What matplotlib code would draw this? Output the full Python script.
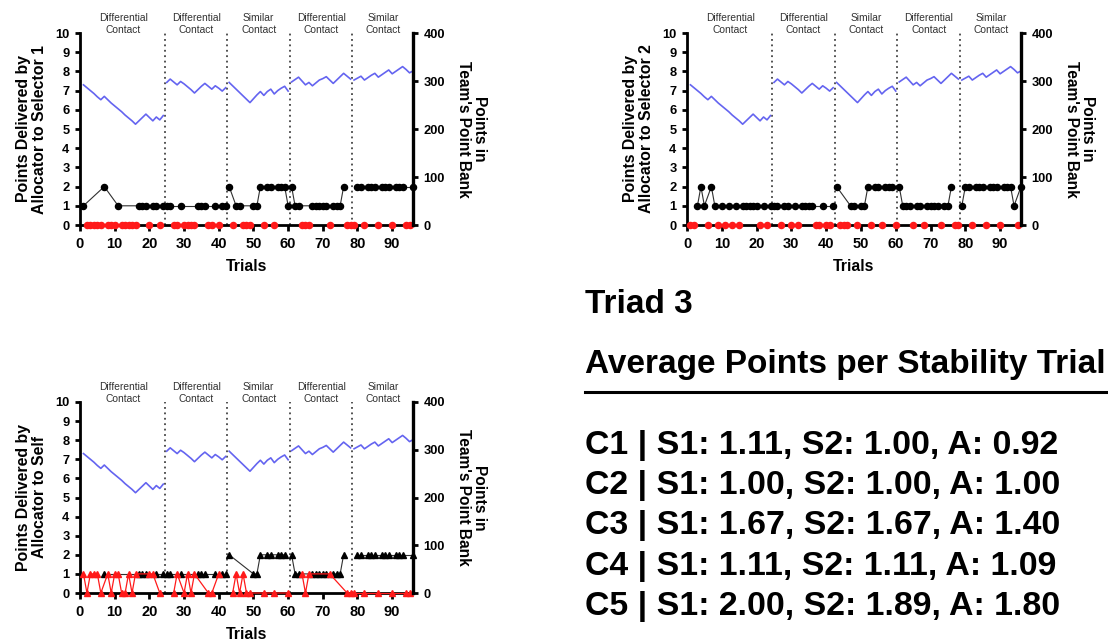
import numpy as np
import matplotlib
matplotlib.use("Agg")
import matplotlib.pyplot as plt
from matplotlib.lines import Line2D

plt.rcParams['font.family'] = ['Liberation Sans', 'DejaVu Sans']
plt.rcParams['font.weight'] = 'bold'
plt.rcParams['axes.labelweight'] = 'bold'

# condition phases (trial ranges)
phase_names = ["Differential\nContact", "Differential\nContact", "Similar\nContact",
               "Differential\nContact", "Similar\nContact"]
phase_first = [1, 25, 43, 61, 79]
phase_last = [24, 42, 60, 78, 96]

# points in the team's point bank, per trial
bank = [292, 286, 280, 274, 267, 261, 268, 261, 254, 248, 242, 236, 229, 223, 217, 210, 217, 224,
        231, 224, 217, 225, 219, 228,
        297, 304, 298, 292, 299, 294, 288, 282, 275, 282, 289, 295, 289, 283, 290, 285, 279, 286,
        297, 290, 283, 276, 269, 262, 255, 263, 271, 278, 270, 278, 283, 273, 280, 285, 289, 279,
        298, 303, 308, 300, 292, 297, 290, 296, 302, 305, 309, 302, 295, 302, 309, 316, 310, 304,
        302, 306, 310, 302, 307, 312, 316, 308, 313, 318, 323, 315, 320, 325, 330, 324, 317, 321]

# points delivered by allocator to selector 1 (0 = red trial)
sel1 = [1, 0, 0, 0, 0, 0, 2, 0, 0, 0, 1, 0, 0, 0, 0, 0, 1, 1, 1, 0, 1, 1, 0, 1,
        1, 1, 0, 0, 1, 0, 0, 0, 0, 1, 1, 1, 0, 0, 1, 0, 1, 1,
        2, 0, 1, 1, 0, 0, 0, 1, 1, 2, 0, 2, 2, 0, 2, 2, 2, 1,
        2, 1, 1, 0, 0, 0, 1, 1, 1, 1, 1, 0, 1, 1, 1, 2, 0, 0,
        0, 2, 2, 0, 2, 2, 2, 0, 2, 2, 2, 0, 2, 2, 2, 0, 0, 2]

# points delivered by allocator to selector 2 (0 = red trial)
sel2 = [0, 0, 1, 2, 1, 0, 2, 1, 0, 1, 0, 1, 0, 1, 0, 1, 1, 1, 1, 1, 0, 1, 0, 1,
        1, 1, 0, 1, 1, 0, 1, 0, 1, 1, 1, 1, 0, 0, 1, 0, 0, 1,
        2, 0, 0, 0, 1, 1, 0, 1, 1, 2, 0, 2, 2, 0, 2, 2, 2, 0,
        2, 1, 1, 1, 0, 1, 1, 0, 1, 1, 1, 1, 0, 1, 1, 2, 0, 0,
        1, 2, 2, 0, 2, 2, 2, 0, 2, 2, 2, 0, 2, 2, 2, 1, 0, 2]

# points delivered by allocator to self
self_pts = [1, 0, 1, 1, 1, 0, 1, 1, 0, 1, 1, 0, 0, 1, 0, 1, 1, 1, 1, 1, 1, 1, 0, 1,
            1, 1, 0, 1, 1, 0, 1, 0, 1, 1, 1, 1, 0, 0, 1, 1, 1, 1,
            2, 0, 1, 0, 1, 0, 0, 1, 1, 2, 0, 2, 2, 0, 2, 2, 2, 0,
            2, 1, 1, 1, 0, 1, 1, 1, 1, 1, 1, 1, 1, 1, 1, 2, 0, 0,
            0, 2, 2, 0, 2, 2, 2, 0, 2, 2, 2, 0, 2, 2, 2, 0, 0, 2]
self_red_trials = [1, 2, 3, 4, 5, 6, 8, 9, 10, 11, 12, 13, 14, 15, 16, 20, 21, 23,
                   27, 28, 30, 31, 32, 33, 37, 38, 40,
                   44, 45, 46, 47, 48, 49, 53, 56, 60,
                   64, 65, 66, 72, 77, 78,
                   79, 82, 86, 90, 94, 95]

triad = "Triad 3"
summary_title = "Average Points per Stability Trial"
summary = ["C1 | S1: 1.11, S2: 1.00, A: 0.92",
           "C2 | S1: 1.00, S2: 1.00, A: 1.00",
           "C3 | S1: 1.67, S2: 1.67, A: 1.40",
           "C4 | S1: 1.11, S2: 1.11, A: 1.09",
           "C5 | S1: 2.00, S2: 1.89, A: 1.80"]

BLUE = '#6464f0'
RED = '#ff1a1a'

W, H = 1108, 640
fig = plt.figure(figsize=(W / 100, H / 100), dpi=100)
trials = np.arange(1, 97)
bank_arr = np.array(bank, dtype=float)


def px_rect(left, top, right, bottom):
    return [left / W, 1 - bottom / H, (right - left) / W, (bottom - top) / H]


def draw_panel(rect, vals, red_mask, marker, ylabel, red_line):
    vals = np.array(vals, dtype=float)
    ax = fig.add_axes(rect)
    ax2 = ax.twinx()
    for k, (a, b) in enumerate(zip(phase_first, phase_last)):
        t = trials[a - 1:b]
        v = vals[a - 1:b]
        r = red_mask[a - 1:b]
        ax.plot(t[~r], v[~r], color='#303030', lw=0.8, marker=marker, ms=4.4,
                mfc='black', mec='black', clip_on=False, zorder=4)
        ax.plot(t[r], v[r], color=RED, lw=0.9 if red_line else 0, marker=marker, ms=4.4,
                mfc=RED, mec=RED, clip_on=False, zorder=5)
        ax2.plot(t, bank_arr[a - 1:b], color=BLUE, lw=1.2)
        ax.text((a + b) / 2, 0.99, phase_names[k], transform=ax.get_xaxis_transform(),
                ha='center', va='bottom', fontsize=7.4, fontweight='normal',
                color='#333333', linespacing=1.3)
    for a in phase_first[1:]:
        ax.axvline(a - 0.5, color='#444444', lw=1.3, ls=(0, (1, 2)), zorder=1)

    ax.set_xlim(0, 96)
    ax.set_ylim(0, 10)
    ax.set_xticks(range(0, 100, 10))
    ax.set_yticks(range(0, 11))
    ax2.set_ylim(0, 400)
    ax2.set_yticks(range(0, 401, 100))
    for s in ['top', 'right']:
        ax.spines[s].set_visible(False)
    for s in ['top', 'left', 'bottom']:
        ax2.spines[s].set_visible(False)
    ax.spines['left'].set_linewidth(2)
    ax.spines['bottom'].set_linewidth(2)
    ax2.spines['right'].set_linewidth(2.4)
    ax.tick_params(axis='y', labelsize=9.3, width=2, length=3.6, pad=4)
    ax.tick_params(axis='x', labelsize=10.5, width=2, length=4.5, pad=4)
    ax2.tick_params(axis='y', labelsize=9.3, width=2, length=3.6, pad=4)
    ax.set_xlabel("Trials", fontsize=11.4, labelpad=6)
    ax.set_ylabel(ylabel, fontsize=11.4, labelpad=6, linespacing=1.1)
    ax2.set_ylabel("Points in\nTeam's Point Bank", fontsize=11.2, rotation=270,
                   labelpad=30, linespacing=1.1)
    return ax


s1 = np.array(sel1)
s2 = np.array(sel2)
draw_panel(px_rect(80, 33, 413, 225), sel1, s1 == 0, 'o',
           "Points Delivered by\nAllocator to Selector 1", False)
draw_panel(px_rect(687, 33, 1021, 225), sel2, s2 == 0, 'o',
           "Points Delivered by\nAllocator to Selector 2", False)
self_mask = np.isin(trials, self_red_trials)
draw_panel(px_rect(80, 402, 413, 593), self_pts, self_mask, '^',
           "Points Delivered by\nAllocator to Self", True)

# summary text on the right
x0 = 585 / W
fig.text(x0, 1 - 313 / H, triad, fontsize=24, fontweight='bold', va='baseline')
fig.text(x0, 1 - 373 / H, summary_title, fontsize=24, fontweight='bold', va='baseline')
fig.add_artist(Line2D([x0, 1.0], [1 - 392 / H, 1 - 392 / H], color='black', lw=2.2,
                      transform=fig.transFigure))
for i, line in enumerate(summary):
    fig.text(x0, 1 - (454 + 40.2 * i) / H, line, fontsize=24.4, fontweight='bold',
             va='baseline')

fig.savefig("out.png", dpi=100, facecolor='white')
